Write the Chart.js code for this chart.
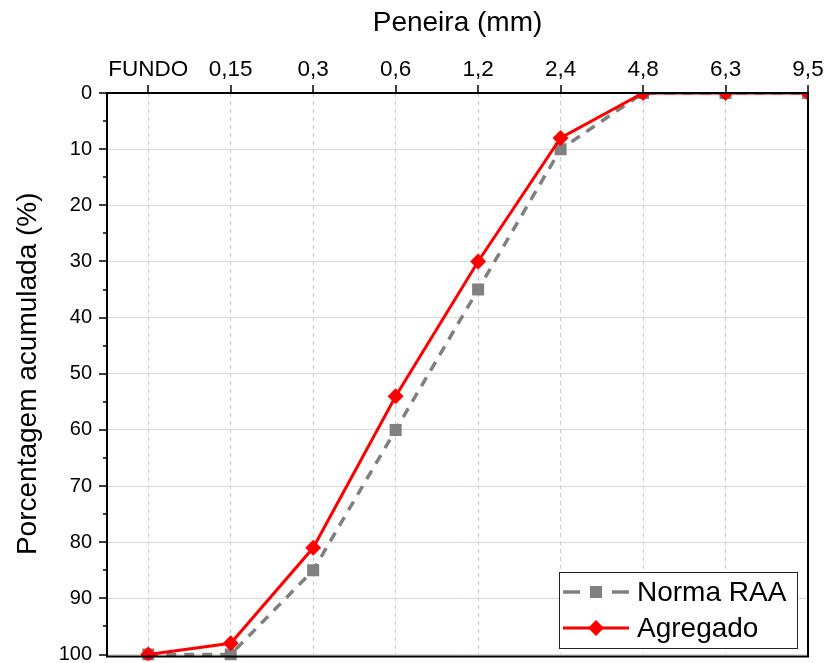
<!DOCTYPE html>
<html>
<head>
<meta charset="utf-8">
<script src="https://cdn.jsdelivr.net/npm/chart.js@4/dist/chart.umd.min.js"></script>
<style>
  body { margin: 0; background: #fff; }
  #wrap { width: 831px; height: 663px; }
</style>
</head>
<body>
<div id="wrap"><canvas id="chart" width="831" height="663"></canvas></div>
<script>
const categories = ['FUNDO', '0,15', '0,3', '0,6', '1,2', '2,4', '4,8', '6,3', '9,5'];
const normaRAA = [100, 100, 85, 60, 35, 10, 0, 0, 0];
const agregado = [100, 98, 81, 54, 30, 8, 0, 0, 0];
const seriesNames = ['Norma RAA', 'Agregado'];

Chart.defaults.font.family = '"Liberation Sans", Arial, sans-serif';
Chart.defaults.color = '#000';

function toPoints(values) {
  return values.map((v, i) => ({ x: i, y: v }));
}

function marker(ctx, style, x, y, r, color) {
  ctx.save();
  ctx.fillStyle = color;
  ctx.beginPath();
  if (style === 'rect') {
    const s = r * Math.SQRT1_2;
    ctx.rect(x - s, y - s, 2 * s, 2 * s);
  } else {
    ctx.moveTo(x - r, y);
    ctx.lineTo(x, y - r);
    ctx.lineTo(x + r, y);
    ctx.lineTo(x, y + r);
    ctx.closePath();
  }
  ctx.fill();
  ctx.restore();
}

// frame, tick marks and the boxed legend
const framePlugin = {
  id: 'frame',
  afterDatasetsDraw(chart) {
    const ctx = chart.ctx;
    const { left, right, top, bottom } = chart.chartArea;
    const xs = chart.scales.x, ys = chart.scales.y;
    ctx.save();
    ctx.strokeStyle = '#000';
    ctx.lineWidth = 2;
    ctx.strokeRect(left, top, right - left, bottom - top + 2);
    ctx.lineWidth = 1.5;
    ctx.beginPath();
    ys.ticks.forEach(t => {
      const py = Math.round(ys.getPixelForValue(t.value));
      const len = t.value % 10 === 0 ? 8 : 4;
      ctx.moveTo(left - len, py);
      ctx.lineTo(left, py);
    });
    xs.ticks.forEach(t => {
      const px = Math.round(xs.getPixelForValue(t.value));
      ctx.moveTo(px, top - 8);
      ctx.lineTo(px, top);
    });
    ctx.stroke();
    ctx.restore();
  },
  afterDraw(chart) {
    const ctx = chart.ctx;
    const bx = 559, by = 572, bw = 238, bh = 76;
    ctx.save();
    ctx.fillStyle = '#fff';
    ctx.fillRect(bx, by, bw, bh);
    ctx.strokeStyle = '#222';
    ctx.lineWidth = 1;
    ctx.strokeRect(bx + 0.5, by + 0.5, bw, bh);
    ctx.font = '28px "Liberation Sans", Arial, sans-serif';
    ctx.textBaseline = 'middle';
    chart.data.datasets.forEach((ds, i) => {
      const cy = by + 20 + i * 36;
      ctx.strokeStyle = ds.borderColor;
      ctx.lineWidth = ds.borderWidth;
      ctx.setLineDash(ds.borderDash ? [17, 16, 0, 16] : []);
      ctx.beginPath();
      ctx.moveTo(563, cy);
      ctx.lineTo(629, cy);
      ctx.stroke();
      ctx.setLineDash([]);
      marker(ctx, ds.pointStyle, 596, cy, ds.pointRadius, ds.pointBackgroundColor);
      ctx.fillStyle = '#000';
      ctx.fillText(ds.label, 637, cy + 1);
    });
    ctx.restore();
  }
};

new Chart(document.getElementById('chart'), {
  type: 'line',
  data: {
    datasets: [
      {
        label: seriesNames[0],
        data: toPoints(normaRAA),
        borderColor: '#808080',
        backgroundColor: '#808080',
        pointBackgroundColor: '#808080',
        pointBorderWidth: 0,
        borderWidth: 3.5,
        borderDash: [10, 8],
        pointStyle: 'rect',
        pointRadius: 8.5,
        tension: 0,
        clip: { left: 0, top: 0, right: 0, bottom: 6 },
        order: 2
      },
      {
        label: seriesNames[1],
        data: toPoints(agregado),
        borderColor: '#ff0000',
        backgroundColor: '#ff0000',
        pointBackgroundColor: '#ff0000',
        pointBorderWidth: 0,
        borderWidth: 3,
        pointStyle: 'rectRot',
        pointRadius: 8,
        tension: 0,
        clip: { left: 0, top: 0, right: 0, bottom: 6 },
        order: 1
      }
    ]
  },
  options: {
    responsive: false,
    animation: false,
    devicePixelRatio: 1,
    layout: { padding: { left: 0, top: 0, right: 23, bottom: 8 } },
    plugins: { legend: { display: false }, tooltip: { enabled: false } },
    scales: {
      x: {
        type: 'linear',
        position: 'top',
        min: -0.5,
        max: 8,
        afterBuildTicks: s => { s.ticks = categories.map((c, i) => ({ value: i })); },
        afterFit: s => { s.height = 93; s.paddingLeft = 0; s.paddingRight = 0; },
        ticks: {
          autoSkip: false,
          maxRotation: 0,
          padding: 10,
          font: { size: 22.5 },
          callback: v => categories[v]
        },
        grid: { color: '#c8c8c8', lineWidth: 1, drawTicks: false },
        border: { display: false, dash: [4, 4] },
        title: {
          display: true,
          text: 'Peneira (mm)',
          font: { size: 28 },
          padding: { top: 6, bottom: 0 }
        }
      },
      y: {
        reverse: true,
        min: 0,
        max: 100,
        afterFit: s => { s.width = 107; s.paddingTop = 0; s.paddingBottom = 0; },
        ticks: {
          stepSize: 5,
          padding: 15,
          font: { size: 20 },
          callback: v => (v % 10 === 0 ? v : '')
        },
        grid: {
          color: c => (c.tick && c.tick.value % 10 === 0 ? '#d9d9d9' : 'rgba(0,0,0,0)'),
          lineWidth: 1,
          drawTicks: false
        },
        border: { display: false },
        title: {
          display: true,
          text: 'Porcentagem acumulada (%)',
          font: { size: 28 },
          padding: { top: 11, bottom: 0 }
        }
      }
    }
  },
  plugins: [framePlugin]
});
</script>
</body>
</html>
